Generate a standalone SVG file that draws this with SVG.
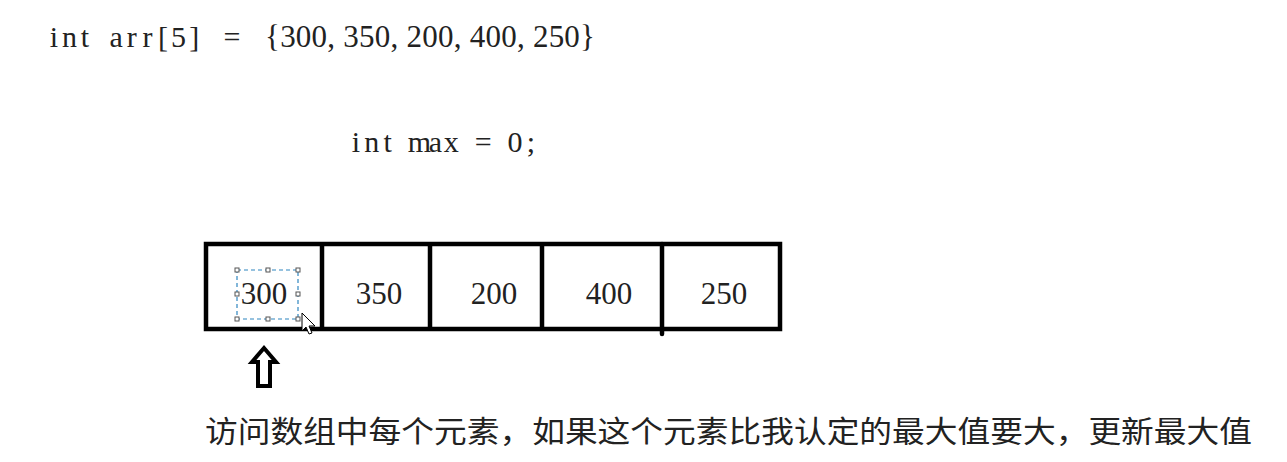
<svg xmlns="http://www.w3.org/2000/svg" width="1287" height="462" viewBox="0 0 1287 462">
<style>
.mono{font-family:"Liberation Serif","DejaVu Serif",serif;font-size:30px;fill:#222;text-anchor:middle}
.num{font-family:"Liberation Serif","DejaVu Serif",serif;fill:#222}
.cell{font-size:31px;text-anchor:middle}
.cjk{font-family:"Noto Sans CJK SC","Noto Sans CJK JP",sans-serif;font-size:30px;fill:#222}
.box{fill:none;stroke:#000;stroke-width:4.5}
.h{fill:#fff;stroke:#555;stroke-width:1}
</style>
<rect width="1287" height="462" fill="#fff"/>
<g id="decl">
<text class="mono" x="53.8 69.4 85 116.2 131.8 147.4 163 178.6 194.2" y="47">intarr[5]</text>
<text class="mono" x="232" y="47">=</text>
<text class="num" x="265" y="47" font-size="31" textLength="330" lengthAdjust="spacing">{300, 350, 200, 400, 250}</text>
</g>
<g id="max">
<text class="mono" x="355.9 371.8 387.7 419.5 435.4 451.3 483.1 514.9 530.8" y="152">intmax=0;</text>
</g>
<g id="array">
<rect class="box" x="206" y="244" width="574" height="85"/>
<line class="box" x1="322" y1="244" x2="322" y2="329"/>
<line class="box" x1="430" y1="244" x2="430" y2="329"/>
<line class="box" x1="542" y1="244" x2="542" y2="329"/>
<line class="box" x1="662" y1="244" x2="662" y2="334" stroke-linecap="round"/>
<text class="num cell" x="264" y="304">300</text>
<text class="num cell" x="379" y="304">350</text>
<text class="num cell" x="494" y="304">200</text>
<text class="num cell" x="609" y="304">400</text>
<text class="num cell" x="724" y="304">250</text>
</g>
<g id="selection">
<rect x="237" y="270" width="61" height="49" fill="none" stroke="#2f86c0" stroke-width="1.2" stroke-dasharray="4,3"/>
<rect class="h" x="235" y="268" width="4" height="4"/>
<rect class="h" x="266" y="268" width="4" height="4"/>
<rect class="h" x="296" y="268" width="4" height="4"/>
<rect class="h" x="235" y="292" width="4" height="4"/>
<rect class="h" x="296" y="292" width="4" height="4"/>
<rect class="h" x="235" y="317" width="4" height="4"/>
<rect class="h" x="266" y="317" width="4" height="4"/>
<rect class="h" x="296" y="317" width="4" height="4"/>
<path d="M302,313 L302,331 L306,327 L309,334 L312,333 L309,326 L315,326 Z" fill="#fff" stroke="#000" stroke-width="1" stroke-linejoin="round"/>
</g>
<g id="pointer">
<path d="M264,348 L276,362 L270,362 L270,386 L258,386 L258,362 L252,362 Z" fill="#fff" stroke="#000" stroke-width="4" stroke-linejoin="miter"/>
</g>
<g id="caption">
<text class="cjk" x="205" y="442" textLength="1047" lengthAdjust="spacingAndGlyphs">访问数组中每个元素，如果这个元素比我认定的最大值要大，更新最大值</text>
</g>
</svg>
